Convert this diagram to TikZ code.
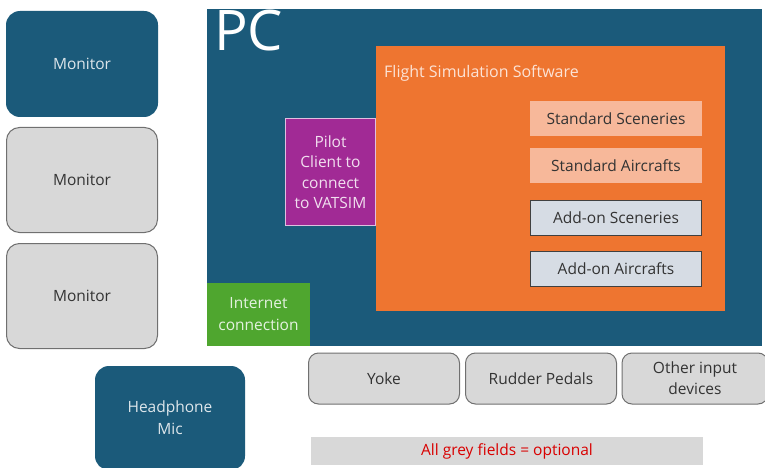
\documentclass[tikz,border=0pt]{standalone}
\usepackage{fontspec}
\setmainfont{Open Sans}
\begin{document}
\begin{tikzpicture}[x=1pt,y=-1pt,
  base/.style={inner sep=2pt,align=center,font=\fontsize{15.5}{19}\selectfont},
  bluebox/.style={base,fill=pcblue,rounded corners=14pt,text=white},
  greybox/.style={base,fill=greyf,draw=greyd,line width=1pt,rounded corners=13pt,text=black!80},
  salmon/.style={base,fill=salmonf,text=black!80,font=\fontsize{15.5}{18}\selectfont},
  addon/.style={base,fill=addf,draw=black!75,line width=1pt,text=black!80,font=\fontsize{15.5}{18}\selectfont},
]
\definecolor{pcblue}{HTML}{1B5A7A}
\definecolor{greyf}{HTML}{D8D8D8}
\definecolor{greyd}{HTML}{707070}
\definecolor{orangef}{HTML}{EE7530}
\definecolor{salmonf}{HTML}{F7B89A}
\definecolor{addf}{HTML}{D6DCE4}
\definecolor{purplef}{HTML}{A12A95}
\definecolor{greenf}{HTML}{4FA62F}
\useasboundingbox (0,0) rectangle (765,468);
\fill[white] (0,0) rectangle (765,468);

% monitors
\node[bluebox,minimum width=152pt,minimum height=106pt,text=white!85!pcblue] (m1) at (82,64) {Monitor};
\node[greybox,minimum width=151pt,minimum height=105pt] (m2) at (82,180) {Monitor};
\node[greybox,minimum width=151pt,minimum height=105pt] (m3) at (82,296) {Monitor};

% PC
\node[fill=pcblue,minimum width=555pt,minimum height=337pt,inner sep=0pt] (pc) at (484.5,177.5) {};
\node[anchor=north west,text=white,inner sep=0pt,font=\fontsize{56}{58}\selectfont] (pclabel) at (214,10) {PC};

% flight sim
\node[fill=orangef,minimum width=349pt,minimum height=265pt,inner sep=0pt] (fs) at (550.5,178.5) {};
\node[anchor=west,text=white!80!orangef,inner sep=0pt,font=\fontsize{16}{18}\selectfont] (fslabel) at (384,73) {Flight Simulation Software};

\node[salmon,minimum width=172pt,minimum height=35pt] (ss) at (616,118.5) {Standard Sceneries};
\node[salmon,minimum width=172pt,minimum height=35pt] (sa) at (616,165.5) {Standard Aircrafts};
\node[addon,minimum width=171pt,minimum height=35pt] (as) at (616,218) {Add-on Sceneries};
\node[addon,minimum width=171pt,minimum height=35pt] (aa) at (616,269) {Add-on Aircrafts};

% pilot client
\node[base,fill=purplef,draw=violet!25,line width=1.2pt,minimum width=90pt,minimum height=107pt,text=white!85!purplef,inner sep=0pt,font=\fontsize{15.5}{20.5}\selectfont] (pilot) at (330.5,172) {Pilot\\Client to\\connect\\to VATSIM};

% internet
\node[base,fill=greenf,minimum width=103pt,minimum height=63pt,inner sep=0pt,text=white!85!greenf,font=\fontsize{15.5}{22}\selectfont] (net) at (258.5,314.5) {Internet\\connection};

% input devices
\node[greybox,minimum width=151pt,minimum height=51pt,rounded corners=10pt] (yoke) at (384,378.5) {Yoke};
\node[greybox,minimum width=151pt,minimum height=51pt,rounded corners=10pt] (rudder) at (541,378.5) {Rudder Pedals};
\node[greybox,minimum width=146pt,minimum height=51pt,rounded corners=10pt,font=\fontsize{15.5}{21}\selectfont] (other) at (695,378.5) {Other input\\devices};

% headphone
\node[bluebox,minimum width=150pt,minimum height=104pt,text=white!85!pcblue,font=\fontsize{15.5}{22}\selectfont] (head) at (170,418) {Headphone\\Mic};

% note
\node[base,fill=greyf,minimum width=392pt,minimum height=28pt,text=red!85!black,inner sep=0pt] (note) at (507,451) {All grey fields = optional};
\end{tikzpicture}
\end{document}
